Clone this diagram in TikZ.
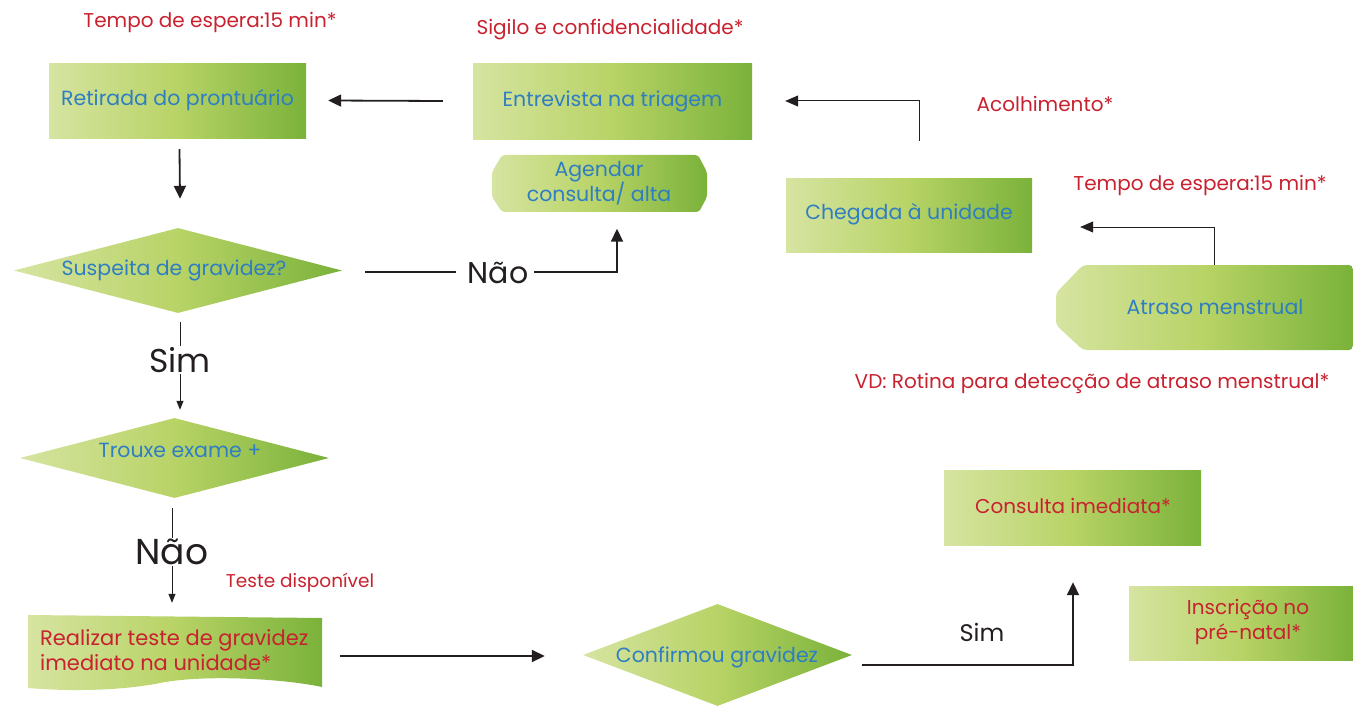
\documentclass[tikz,border=0pt]{standalone}
\usepackage{fontspec}
\setmainfont{Poppins}
\usetikzlibrary{shapes.geometric,arrows.meta,calc}
\definecolor{gl}{HTML}{D6E4A1}
\definecolor{gm}{HTML}{B8D366}
\definecolor{gr}{HTML}{7AB23A}
\definecolor{tred}{HTML}{C8212F}
\definecolor{tblue}{HTML}{2F7EC2}
\definecolor{ink}{HTML}{231F20}
\begin{document}
\begin{tikzpicture}[x=1pt,y=-1pt,
 grad/.style={left color=gl, right color=gr, middle color=gm, draw=none},
 box/.style={grad, rectangle, inner sep=0pt},
 dia/.style={grad, diamond, inner sep=0pt},
 ghost/.style={rectangle, inner sep=0pt},
 bt/.style={text=tblue, font=\fontsize{20.5}{25}\selectfont, inner sep=0pt},
 rt/.style={text=tred, font=\fontsize{20}{25}\selectfont, inner sep=0pt},
 arr/.style={draw=ink, line width=1.8pt, -{Triangle[length=13pt,width=12pt]}},
 tarr/.style={draw=ink, line width=1pt, -{Triangle[length=13pt,width=11pt]}},
 sarr/.style={draw=ink, line width=1pt, -{Triangle[length=9pt,width=7pt]}},
 ln/.style={draw=ink, line width=1.2pt},
 big/.style={text=ink, inner sep=1pt}
]
\useasboundingbox (0,0) rectangle (1353,706);

% boxes
\node[box, minimum width=257, minimum height=75] (retirada) at (177.5,101.5) {};
\node[bt] (retiradat) at (177.5,100) {Retirada do prontuário};
\node[box, minimum width=279, minimum height=76] (entrevista) at (612.5,102) {};
\node[bt] (entrevistat) at (612.5,101) {Entrevista na triagem};

\shade[grad, rounded corners=3pt] (502,155) -- (698,155) -- (707,172) -- (707,197) -- (699,212)
  -- (502,212) -- (492,197) -- (492,172) -- cycle;
\node[ghost, minimum width=214, minimum height=58] (agendar) at (599.5,183.5) {};
\node[bt, align=center] (agendart) at (599,183) {Agendar\\consulta/ alta};

\node[box, minimum width=246, minimum height=73] (chegada) at (909,215.5) {};
\node[bt] (chegadat) at (909,214) {Chegada à unidade};

\shade[grad, rounded corners=4pt] (1083,265) -- (1353,265) -- (1353,350) -- (1083,350)
  -- (1056,325) -- (1056,293) -- cycle;
\node[ghost, minimum width=297, minimum height=85] (atraso) at (1204.5,307.5) {};
\node[bt] (atrasot) at (1215,307) {Atraso menstrual};

\node[box, minimum width=257, minimum height=75] (consulta) at (1072.5,507.5) {};
\node[rt] (consultat) at (1073,506) {Consulta imediata*};
\node[box, minimum width=224, minimum height=74] (inscricao) at (1241,623) {};
\node[rt, align=center] (inscricaot) at (1248,622) {Inscrição no\\pré-natal*};

% diamonds
\node[dia, minimum width=328, minimum height=85] (d1) at (178,270.5) {};
\node[bt] (d1t) at (174,270) {Suspeita de gravidez?};
\node[dia, minimum width=309, minimum height=80] (d2) at (174.5,458) {};
\node[bt] (d2t) at (180,450) {Trouxe exame +};
\node[dia, minimum width=269, minimum height=102] (d3) at (717.5,655) {};
\node[bt] (d3t) at (717,657) {Confirmou gravidez};

% document shape
\shade[grad] (28,615) -- (322,618) -- (322,687)
  .. controls (285,679) and (205,674) .. (160,683)
  .. controls (125,690) and (75,692) .. (28,688) -- cycle;
\node[ghost, minimum width=294, minimum height=62] (realizar) at (175,646) {};
\node[rt, align=left, anchor=west, font=\fontsize{21}{25}\selectfont] (realizart) at (40,650) {Realizar teste de gravidez\\imediato na unidade*};

% red annotations
\node[rt] (tempo1) at (210,22) {Tempo de espera:15 min*};
\node[rt] (sigilo) at (610,30) {Sigilo e confidencialidade*};
\node[rt] (acolh) at (1045,104) {Acolhimento*};
\node[rt] (tempo2) at (1200,185) {Tempo de espera:15 min*};
\node[rt] (vd) at (1092,383) {VD: Rotina para detecção de atraso menstrual*};
\node[rt, font=\fontsize{18.5}{22}\selectfont] (teste) at (300,583) {Teste disponível};

% connectors
\draw[arr] ($(entrevista.west)+(-30,-1)$) -- ($(retirada.east)+(22,-1)$);
\draw[arr] ($(retirada.south)+(2,10)$) -- ($(d1.north)+(2,-29)$);

\node[big, font=\fontsize{30}{32}\selectfont, inner xsep=6pt] (nao1) at (498,273) {Não};
\draw[ln] ($(d1.east)+(23,1.5)$) -- ($(nao1.west |- 0,272)+(-6,0)$);
\coordinate (c1) at ($(agendar.south)+(17.5,16)$);
\draw[arr] (nao1.east |- 0,272) -| (c1);

\draw[tarr] ($(chegada.north)+(10,-38)$) |- ($(entrevista.east)+(33,-1)$);
\draw[tarr] ($(atraso.north)+(9.5,0)$) |- ($(chegada.east)+(48,11.5)$);

\node[big, font=\fontsize{33}{36}\selectfont] (sim1) at (180,360) {Sim};
\draw[ln, line width=1pt] ($(d1.south)+(2,9)$) -- (sim1.north);
\draw[sarr] (sim1.south) -- ($(d2.north)+(5.5,-8)$);

\node[big, font=\fontsize{36}{40}\selectfont] (nao2) at (172,552) {Não};
\draw[ln, line width=1pt] ($(d2.south)+(-2.5,10)$) -- (nao2.north);
\draw[sarr] (nao2.south) -- ($(realizar.north)+(-3,-12)$);

\draw[arr] ($(realizar.east)+(18,10)$) -- ($(d3.west)+(-38,1)$);

\node[big, font=\fontsize{24}{28}\selectfont] (sim2) at (982,632) {Sim};
\coordinate (c2) at ($(consulta.south)+(0.5,37)$);
\draw[arr] ($(d3.east)+(10,10)$) -| (c2);
\end{tikzpicture}
\end{document}
